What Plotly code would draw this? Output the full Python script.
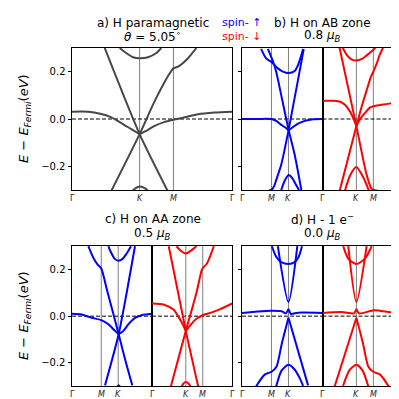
import plotly.graph_objects as go

# high-symmetry path G-K-M-G, distances in units of |GK|
PATH_POS = [0.0, 1.0, 1.5, 2.366]
PATH_LABELS = ["Γ", "<i>K</i>", "<i>M</i>", "Γ"]
Y_TICKS = [-0.2, 0.0, 0.2]

# a) H paramagnetic (one spin channel)
A_CONE1_K = [0.484, 1.0, 1.42]
A_CONE1_E = [0.300, -0.064, -0.307]
A_CONE2_K = [0.572, 1.0, 1.2, 1.371, 1.445, 1.5, 1.568, 1.716, 1.839]
A_CONE2_E = [-0.309, -0.064, 0.062, 0.157, 0.193, 0.214, 0.221, 0.257, 0.300]
A_FLAT1_K = [0.0, 0.237, 0.433, 0.581, 0.729, 0.877, 1.0]
A_FLAT1_E = [0.031, 0.031, 0.021, 0.007, -0.017, -0.043, -0.064]
A_FLAT2_K = [1.0, 1.124, 1.223, 1.371, 1.5, 1.667, 1.864, 2.11, 2.366]
A_FLAT2_E = [-0.064, -0.046, -0.029, -0.012, -0.003, 0.007, 0.020, 0.027, 0.031]
A_TOP_K = [0.706, 0.78, 0.902, 1.0, 1.124, 1.247, 1.321]
A_TOP_E = [0.300, 0.283, 0.261, 0.257, 0.261, 0.279, 0.300]
A_CAP_K = [0.877, 0.932, 1.0, 1.087, 1.139]
A_CAP_E = [-0.309, -0.294, -0.285, -0.294, -0.309]

# b) H on AB zone, spin up
BU_TOP_K = [1.805, 1.657, 1.509, 1.41, 1.31, 1.164, 0.996, 0.819, 0.72, 0.621, 0.572]
BU_TOP_E = [0.296, 0.256, 0.242, 0.228, 0.214, 0.200, 0.194, 0.203, 0.228, 0.270, 0.296]
BU_CONE1_K = [1.607, 1.46, 1.361, 1.183, 0.996, 0.819, 0.621]
BU_CONE1_E = [0.296, 0.245, 0.200, 0.080, -0.046, -0.150, -0.300]
BU_CONE2_K = [1.6, 1.48, 1.41, 1.36, 1.214, 0.996, 0.85, 0.7, 0.552]
BU_CONE2_E = [-0.305, -0.297, -0.279, -0.257, -0.193, -0.046, 0.066, 0.180, 0.296]
BU_FLAT1_K = [2.366, 1.953, 1.509, 1.361, 1.213, 1.065, 0.996]
BU_FLAT1_E = [0.0, 0.0, 0.0, -0.008, -0.025, -0.039, -0.048]
BU_FLAT2_K = [0.996, 0.868, 0.72, 0.523, 0.276, 0.0]
BU_FLAT2_E = [-0.048, -0.034, -0.020, -0.008, -0.001, 0.0]
BU_CAP_K = [1.213, 1.114, 0.996, 0.888, 0.789, 0.69]
BU_CAP_E = [-0.300, -0.262, -0.237, -0.250, -0.276, -0.300]

# b) H on AB zone, spin down
BD_CONE1_K = [0.503, 1.0, 1.29, 1.44, 1.51, 1.72]
BD_CONE1_E = [0.301, -0.030, -0.229, -0.293, -0.300, -0.305]
BD_CONE2_K = [0.503, 1.0, 1.15, 1.3, 1.42, 1.5, 1.6, 1.7, 1.785]
BD_CONE2_E = [-0.305, -0.030, 0.050, 0.120, 0.175, 0.200, 0.235, 0.275, 0.301]
BD_TOP_K = [0.6, 0.72, 0.868, 0.996, 1.164, 1.312, 1.46, 1.558]
BD_TOP_E = [0.300, 0.270, 0.251, 0.247, 0.254, 0.270, 0.287, 0.301]
BD_FLAT1_K = [0.0, 0.325, 0.523, 0.67, 0.819, 0.917, 1.0]
BD_FLAT1_E = [0.077, 0.077, 0.073, 0.059, 0.030, 0.001, -0.030]
BD_FLAT2_K = [1.0, 1.114, 1.262, 1.41, 1.509, 1.706, 2.002, 2.366]
BD_FLAT2_E = [-0.030, 0.001, 0.027, 0.049, 0.054, 0.059, 0.066, 0.077]
BD_CAP_K = [0.65, 0.8, 0.994, 1.19, 1.39]
BD_CAP_E = [-0.310, -0.243, -0.203, -0.243, -0.310]

# c) H on AA zone, spin up
CU_CONE1_K = [1.884, 1.736, 1.607, 1.5, 1.341, 1.15, 0.986, 0.799, 0.582]
CU_CONE1_E = [0.299, 0.250, 0.220, 0.204, 0.117, 0.013, -0.077, -0.183, -0.296]
CU_CONE2_K = [1.39, 0.986, 0.75, 0.503]
CU_CONE2_E = [-0.296, -0.077, 0.099, 0.299]
CU_TOP_K = [1.29, 1.243, 1.1, 0.986, 0.87, 0.75, 0.62]
CU_TOP_E = [0.299, 0.282, 0.245, 0.237, 0.245, 0.268, 0.299]
CU_FLAT1_K = [2.366, 2.08, 1.785, 1.5, 1.29, 1.095, 0.986]
CU_FLAT1_E = [0.010, 0.007, -0.007, -0.017, -0.035, -0.063, -0.077]
CU_FLAT2_K = [0.986, 0.848, 0.7, 0.503, 0.306, 0.0]
CU_FLAT2_E = [-0.077, -0.063, -0.035, -0.007, 0.004, 0.010]
CU_CAP_K = [0.93, 0.986, 1.04]
CU_CAP_E = [-0.305, -0.296, -0.305]

# c) H on AA zone, spin down
CD_FLAT1_K = [0.0, 0.358, 0.633, 0.771, 0.908, 1.0]
CD_FLAT1_E = [0.054, 0.049, 0.028, 0.0, -0.035, -0.063]
CD_FLAT2_K = [1.0, 1.156, 1.313, 1.5, 1.727, 2.036, 2.366]
CD_FLAT2_E = [-0.063, -0.035, -0.011, 0.004, 0.014, 0.031, 0.054]
CD_CONE1_K = [0.495, 1.0, 1.365]
CD_CONE1_E = [0.299, -0.063, -0.300]
CD_CONE2_K = [0.56, 1.0, 1.313, 1.47, 1.5, 1.624, 1.83]
CD_CONE2_E = [-0.300, -0.063, 0.099, 0.197, 0.205, 0.225, 0.299]
CD_TOP_K = [0.725, 0.85, 1.0, 1.15, 1.313]
CD_TOP_E = [0.299, 0.280, 0.268, 0.280, 0.299]
CD_CAP_K = [0.86, 0.93, 1.0, 1.08, 1.155]
CD_CAP_E = [-0.305, -0.288, -0.282, -0.288, -0.305]

# d) H - 1 e-, spin up
DU_VEE_K = [1.312, 1.0, 0.74]
DU_VEE_E = [0.299, 0.060, 0.299]
DU_TOP_K = [1.489, 1.361, 1.213, 1.0, 0.819, 0.7, 0.602]
DU_TOP_E = [0.299, 0.254, 0.231, 0.223, 0.231, 0.254, 0.299]
DU_LOW1_K = [1.0, 1.2, 1.35, 1.5, 1.7, 1.95]
DU_LOW1_E = [-0.007, -0.120, -0.215, -0.238, -0.250, -0.300]
DU_LOW2_K = [1.0, 0.424]
DU_LOW2_E = [-0.007, -0.296]
DU_CAP_K = [1.36, 1.2, 1.0, 0.82, 0.68, 0.57]
DU_CAP_E = [-0.300, -0.232, -0.208, -0.228, -0.262, -0.298]
DU_FLAT_K = [2.366, 1.9, 1.5, 1.2, 1.07, 1.0, 0.93, 0.72, 0.0]
DU_FLAT_E = [0.014, 0.020, 0.023, 0.021, 0.012, 0.030, 0.010, 0.015, 0.014]

# d) H - 1 e-, spin down
DD_VEE_K = [0.759, 1.0, 1.302]
DD_VEE_E = [0.299, 0.060, 0.299]
DD_TOP_K = [0.611, 0.759, 1.0, 1.252, 1.45]
DD_TOP_E = [0.299, 0.246, 0.223, 0.246, 0.299]
DD_LOW1_K = [1.0, 1.2, 1.35, 1.5, 1.7, 1.95]
DD_LOW1_E = [-0.007, -0.120, -0.215, -0.238, -0.250, -0.300]
DD_LOW2_K = [1.0, 0.36]
DD_LOW2_E = [-0.007, -0.300]
DD_CAP_K = [0.607, 0.8, 1.0, 1.18, 1.35]
DD_CAP_E = [-0.298, -0.230, -0.208, -0.232, -0.300]
DD_FLAT_K = [0.0, 0.562, 0.93, 1.0, 1.07, 1.519, 1.943, 2.366]
DD_FLAT_E = [0.014, 0.018, 0.012, 0.030, 0.012, 0.025, 0.018, 0.010]

GRAY = "#474747"
BLUE = "#0000ff"
RED = "#ff0000"
FONT = "DejaVu Sans"
W = 399

# panel -> (axis number, x domain px, y domain px, reversed, y labels, y ticks)
PANELS = {
    "a": (1, (64, 224), (40, 182), False, True, True),
    "bu": (2, (234, 314.5), (40, 182), True, False, True),
    "bd": (3, (314.5, 394.7), (40, 182), False, False, False),
    "cu": (4, (64, 144), (238, 378.3), True, True, True),
    "cd": (5, (144, 224), (238, 378.3), False, False, False),
    "du": (6, (234, 314.5), (238, 378.3), True, False, True),
    "dd": (7, (314.5, 394.7), (238, 378.3), False, False, False),
}

BANDS = [
    ("a", GRAY, [(A_CONE1_K, A_CONE1_E), (A_CONE2_K, A_CONE2_E), (A_FLAT1_K, A_FLAT1_E),
                 (A_FLAT2_K, A_FLAT2_E), (A_TOP_K, A_TOP_E), (A_CAP_K, A_CAP_E)]),
    ("bu", BLUE, [(BU_TOP_K, BU_TOP_E), (BU_CONE1_K, BU_CONE1_E), (BU_CONE2_K, BU_CONE2_E),
                  (BU_FLAT1_K, BU_FLAT1_E), (BU_FLAT2_K, BU_FLAT2_E), (BU_CAP_K, BU_CAP_E)]),
    ("bd", RED, [(BD_CONE1_K, BD_CONE1_E), (BD_CONE2_K, BD_CONE2_E), (BD_TOP_K, BD_TOP_E),
                 (BD_FLAT1_K, BD_FLAT1_E), (BD_FLAT2_K, BD_FLAT2_E), (BD_CAP_K, BD_CAP_E)]),
    ("cu", BLUE, [(CU_CONE1_K, CU_CONE1_E), (CU_CONE2_K, CU_CONE2_E), (CU_TOP_K, CU_TOP_E),
                  (CU_FLAT1_K, CU_FLAT1_E), (CU_FLAT2_K, CU_FLAT2_E), (CU_CAP_K, CU_CAP_E)]),
    ("cd", RED, [(CD_FLAT1_K, CD_FLAT1_E), (CD_FLAT2_K, CD_FLAT2_E), (CD_CONE1_K, CD_CONE1_E),
                 (CD_CONE2_K, CD_CONE2_E), (CD_TOP_K, CD_TOP_E), (CD_CAP_K, CD_CAP_E)]),
    ("du", BLUE, [(DU_VEE_K, DU_VEE_E), (DU_TOP_K, DU_TOP_E), (DU_LOW1_K, DU_LOW1_E),
                  (DU_LOW2_K, DU_LOW2_E), (DU_CAP_K, DU_CAP_E), (DU_FLAT_K, DU_FLAT_E)]),
    ("dd", RED, [(DD_VEE_K, DD_VEE_E), (DD_TOP_K, DD_TOP_E), (DD_LOW1_K, DD_LOW1_E),
                 (DD_LOW2_K, DD_LOW2_E), (DD_CAP_K, DD_CAP_E), (DD_FLAT_K, DD_FLAT_E)]),
]


def px_x(p):
    return p / W


def px_y(p):
    return 1 - p / W


def note(text, x, y, size=12, color="black", angle=0, xref="paper"):
    return dict(text=text, x=x if xref != "paper" else px_x(x), y=px_y(y),
                xref=xref, yref="paper", borderpad=0,
                showarrow=False, textangle=angle, xanchor="center", yanchor="middle",
                font=dict(family=FONT, size=size, color=color))


fig = go.Figure()
layout = {}
shapes = []
annotations = []

for key, (n, xd, yd, rev, ylab, ytk) in PANELS.items():
    suf = "" if n == 1 else str(n)
    xa, ya = "x" + suf, "y" + suf
    layout["xaxis" + suf] = dict(
        domain=[px_x(xd[0]), px_x(xd[1])], anchor=ya,
        range=[PATH_POS[-1], PATH_POS[0]] if rev else [PATH_POS[0], PATH_POS[-1]],
        showticklabels=False, ticks="",
        showline=True, mirror=True, linecolor="black", linewidth=1,
        showgrid=False, zeroline=False,
    )
    layout["yaxis" + suf] = dict(
        domain=[px_y(yd[1]), px_y(yd[0])], anchor=xa,
        range=[-0.3, 0.3], tickmode="array", tickvals=Y_TICKS, tickformat=".1f",
        ticks="outside" if ytk else "", ticklen=3.5, tickwidth=1, tickcolor="black",
        showticklabels=ylab, tickfont=dict(size=10, color="black"),
        showline=True, mirror=True, linecolor="black", linewidth=1,
        showgrid=False, zeroline=False,
    )
    for kp in PATH_POS[1:3]:
        shapes.append(dict(type="line", xref=xa, yref=ya + " domain", x0=kp, x1=kp,
                           y0=0, y1=1, line=dict(color="#808080", width=1), layer="below"))
    shapes.append(dict(type="line", xref=xa + " domain", yref=ya, x0=0, x1=1, y0=0, y1=0,
                       line=dict(color="black", width=1, dash="4px,2px"), layer="below"))
    # k-path labels under each panel (shared G at the spin-panel seam drawn once)
    for i, (kp, lab) in enumerate(zip(PATH_POS, PATH_LABELS)):
        if key in ("bd", "cd", "dd") and i == 0:
            continue
        annotations.append(note(lab, kp, yd[1] + 8, size=8, color="#222", xref=xa))

for key, color, bands in BANDS:
    n = PANELS[key][0]
    suf = "" if n == 1 else str(n)
    for k, e in bands:
        fig.add_trace(go.Scatter(
            x=k, y=e, mode="lines", xaxis="x" + suf, yaxis="y" + suf,
            line=dict(color=color, width=2, shape="spline", smoothing=0.7),
            showlegend=False, hoverinfo="skip",
        ))

annotations += [
    note("a) H paramagnetic", 144.5, 15),
    note("<i>θ</i> = 5.05<sup>∘</sup>", 144.5, 28.5),
    note("b) H on AB zone", 314.5, 15),
    note("0.8 <i>μ</i><sub><i>B</i></sub>", 314.5, 28.5),
    note("spin- ↑", 233.5, 14, size=11, color=BLUE),
    note("spin- ↓", 233.5, 28, size=11, color=RED),
    note("c) H on AA zone", 144.5, 211),
    note("0.5 <i>μ</i><sub><i>B</i></sub>", 144.5, 225.5),
    note("d) H - 1 e<sup>−</sup>", 314.5, 211),
    note("0.0 <i>μ</i><sub><i>B</i></sub>", 314.5, 225.5),
    note("<i>E</i> − <i>E</i><sub><i>Fermi</i></sub>(<i>eV</i>)", 16, 111, size=13, angle=-90),
    note("<i>E</i> − <i>E</i><sub><i>Fermi</i></sub>(<i>eV</i>)", 16, 308, size=13, angle=-90),
]

fig.update_layout(
    width=W, height=W, margin=dict(l=0, r=0, t=0, b=0),
    paper_bgcolor="white", plot_bgcolor="white",
    font=dict(family=FONT, color="black"),
    shapes=shapes, annotations=annotations, **layout,
)

fig.write_html("out.html")
